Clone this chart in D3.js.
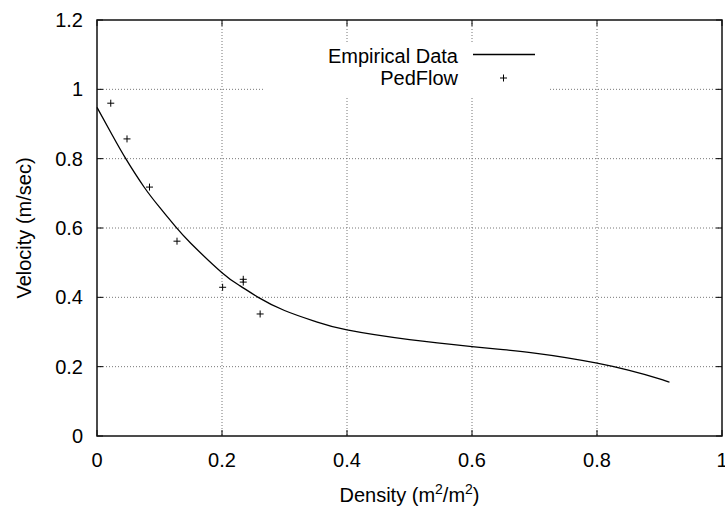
<!DOCTYPE html>
<html>
<head>
<meta charset="utf-8">
<script src="https://cdn.jsdelivr.net/npm/d3@7"></script>
<style>
    body { margin: 0; background: #fff; }
    svg { display: block; font-family: "Liberation Sans", Arial, sans-serif; }
    .grid line { stroke: #777; stroke-width: 1; stroke-dasharray: 1,2; }
</style>
</head>
<body>
<div class="container"></div>
<script>
// PedFlow simulation points
const pedDensity  = [0.022, 0.048, 0.084, 0.128, 0.201, 0.234, 0.234, 0.261]
const pedVelocity = [0.960, 0.857, 0.718, 0.562, 0.429, 0.452, 0.444, 0.352]

// Empirical data curve
const empDensity  = [0, 0.025, 0.046, 0.075, 0.1, 0.126, 0.15, 0.2, 0.229, 0.258, 0.3, 0.35, 0.4, 0.5, 0.6, 0.65, 0.7, 0.75, 0.8, 0.85, 0.9, 0.916]
const empVelocity = [0.948, 0.866, 0.80, 0.719, 0.66, 0.603, 0.556, 0.471, 0.433, 0.40, 0.362, 0.330, 0.306, 0.278, 0.258, 0.249, 0.239, 0.226, 0.21, 0.19, 0.165, 0.155]

const xTicks = [0, 0.2, 0.4, 0.6, 0.8, 1]
const yTicks = [0, 0.2, 0.4, 0.6, 0.8, 1, 1.2]

const width = 725
const height = 508
const margin = {top: 20, right: 3, bottom: 72, left: 97}
const innerW = width - margin.left - margin.right
const innerH = height - margin.top - margin.bottom

const svg = d3.select(".container")
    .append("svg")
    .attr("width", width)
    .attr("height", height)

const g = svg.append("g")
    .attr("transform", `translate(${margin.left},${margin.top})`)

const x = d3.scaleLinear().domain([0, 1]).range([0, innerW])
const y = d3.scaleLinear().domain([0, 1.2]).range([innerH, 0])

// grid
const grid = g.append("g").attr("class", "grid")
grid.selectAll(".gx")
    .data(xTicks.slice(1, -1))
    .enter().append("line")
    .attr("x1", d => x(d)).attr("x2", d => x(d))
    .attr("y1", 0).attr("y2", innerH)
grid.selectAll(".gy")
    .data(yTicks.slice(1, -1))
    .enter().append("line")
    .attr("x1", 0).attr("x2", innerW)
    .attr("y1", d => y(d)).attr("y2", d => y(d))

// key box blanks the grid behind it
g.append("rect")
    .attr("x", 166).attr("y", 23)
    .attr("width", 285).attr("height", 53)
    .attr("fill", "#fff")

// ticks on all four sides
const tickLen = 6
const ticks = g.append("g").attr("stroke", "#000").attr("stroke-width", 1)
xTicks.forEach(t => {
    ticks.append("line").attr("x1", x(t)).attr("x2", x(t)).attr("y1", innerH).attr("y2", innerH - tickLen)
    ticks.append("line").attr("x1", x(t)).attr("x2", x(t)).attr("y1", 0).attr("y2", tickLen)
})
yTicks.forEach(t => {
    ticks.append("line").attr("x1", 0).attr("x2", tickLen).attr("y1", y(t)).attr("y2", y(t))
    ticks.append("line").attr("x1", innerW).attr("x2", innerW - tickLen).attr("y1", y(t)).attr("y2", y(t))
})

// border
g.append("rect")
    .attr("width", innerW).attr("height", innerH)
    .attr("fill", "none")
    .attr("stroke", "#111")
    .attr("stroke-width", 1.5)

// tick labels
g.selectAll(".xl")
    .data(xTicks)
    .enter().append("text")
    .attr("x", d => x(d))
    .attr("y", innerH + 31)
    .attr("text-anchor", "middle")
    .style("font-size", "20px")
    .text(d => d3.format("~g")(d))

g.selectAll(".yl")
    .data(yTicks)
    .enter().append("text")
    .attr("x", -14)
    .attr("y", d => y(d) + 7)
    .attr("text-anchor", "end")
    .style("font-size", "20px")
    .text(d => d3.format("~g")(d))

// axis titles
const xt = svg.append("text")
    .attr("x", margin.left + innerW / 2)
    .attr("y", 502)
    .attr("text-anchor", "middle")
    .style("font-size", "20px")
xt.append("tspan").text("Density (m")
xt.append("tspan").attr("dy", -8).style("font-size", "14px").text("2")
xt.append("tspan").attr("dy", 8).text("/m")
xt.append("tspan").attr("dy", -8).style("font-size", "14px").text("2")
xt.append("tspan").attr("dy", 8).text(")")

svg.append("text")
    .attr("transform", `translate(31,${margin.top + innerH / 2}) rotate(-90)`)
    .attr("text-anchor", "middle")
    .style("font-size", "20px")
    .text("Velocity (m/sec)")

// empirical curve
const empData = empDensity.map((d, i) => [d, empVelocity[i]])
const line = d3.line()
    .x(d => x(d[0]))
    .y(d => y(d[1]))
    .curve(d3.curveNatural)

g.append("path")
    .datum(empData)
    .attr("d", line)
    .attr("fill", "none")
    .attr("stroke", "#000")
    .attr("stroke-width", 1.3)

// PedFlow points as plus signs
function drawPlus(sel, px, py) {
    const s = 3.5
    sel.append("path")
        .attr("d", `M${px - s},${py}H${px + s}M${px},${py - s}V${py + s}`)
        .attr("stroke", "#000")
        .attr("stroke-width", 1)
        .attr("fill", "none")
}
pedDensity.forEach((d, i) => drawPlus(g, x(d), y(pedVelocity[i])))

// key
const key = svg.append("g")
key.append("text")
    .attr("x", 458).attr("y", 63)
    .attr("text-anchor", "end")
    .style("font-size", "20px")
    .text("Empirical Data")
key.append("line")
    .attr("x1", 473).attr("x2", 535)
    .attr("y1", 54.5).attr("y2", 54.5)
    .attr("stroke", "#000").attr("stroke-width", 1.3)
key.append("text")
    .attr("x", 458).attr("y", 85)
    .attr("text-anchor", "end")
    .style("font-size", "20px")
    .text("PedFlow")
drawPlus(key, 503.5, 78)
</script>
</body>
</html>
